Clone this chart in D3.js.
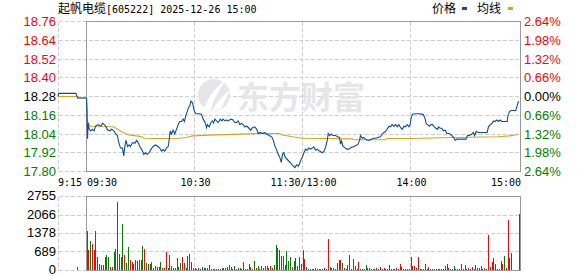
<!DOCTYPE html>
<html>
<head>
<meta charset="utf-8">
<script src="https://cdn.jsdelivr.net/npm/d3@7"></script>
<style>
body { margin: 0; background: #fff; }
svg { display: block; }
</style>
</head>
<body>
<svg id="chart"></svg>
<script>
const width = 578;
const height = 276;

const stockName = "起帆电缆";
const stockInfo = "[605222] 2025-12-26 15:00";
const legendNames = ["价格", "均线"];
const prevClose = 18.28;
const priceTicks = [18.76, 18.64, 18.52, 18.40, 18.28, 18.16, 18.04, 17.92, 17.80];
const pctTicks = ["2.64%", "1.98%", "1.32%", "0.66%", "0.00%", "0.66%", "1.32%", "1.98%", "2.64%"];
const volTicks = [0, 689, 1378, 2066, 2755];
const timeTicks = [["09:30", 0], ["10:30", 60], ["11:30/13:00", 120], ["14:00", 180], ["15:00", 240]];

// 9:15 - 9:30 auction, minutes after 9:15
const prePrice = [[0, 18.28], [0.3, 18.30], [9.6, 18.30], [10.5, 18.27], [15, 18.27]];
const preAvg = [[0, 18.28], [10.2, 18.28], [10.5, 18.27], [15, 18.27]];
const preVolume = [[10, 112]];

// trading minutes after 09:30 (0..240)
const priceSeries = [
    [0, 18.27], [0.6, 18.01], [0.9, 18.11], [1.5, 18.07], [2.4, 18.06], [3.3, 18.07], [4.3, 18.06], [5, 18.09],
    [6.5, 18.10], [8, 18.09], [8.9, 18.11], [9.8, 18.10], [10.7, 18.09], [11.7, 18.065], [13, 18.06], [13.9, 18.07],
    [15.2, 18.06], [16.3, 18.04], [17.2, 18.03], [17.8, 17.99], [18.9, 17.95], [20, 17.95], [20.7, 17.90], [21.3, 17.96],
    [21.9, 18.00], [22.8, 17.96], [23.7, 17.97], [24.4, 17.96], [25.6, 17.985], [26.9, 17.98], [27.8, 18.00], [28.7, 17.985],
    [29.6, 17.96], [30.7, 17.94], [31.8, 17.91], [32.8, 17.92], [33.7, 17.91], [34.8, 17.92], [35.7, 17.94], [37, 17.96],
    [38.3, 17.97], [39.8, 17.96], [40.7, 17.95], [41.7, 17.93], [42.6, 17.94], [43.5, 17.93], [44.4, 17.95], [45.4, 17.96],
    [45.9, 18.00], [46.5, 18.06], [47.2, 18.04], [48.1, 18.065], [49, 18.04], [50, 18.07], [50.9, 18.10], [51.8, 18.12],
    [52.8, 18.12], [53.7, 18.135], [54.4, 18.12], [55.2, 18.16], [55.9, 18.18], [56.7, 18.21], [57.4, 18.22], [58, 18.25],
    [58.9, 18.24], [59.8, 18.19], [60.8, 18.17], [62.6, 18.17], [63.9, 18.167], [64.8, 18.135], [65.9, 18.114], [66.7, 18.08],
    [67.2, 18.10], [68.2, 18.086], [69.1, 18.114], [70, 18.124], [70.6, 18.11], [71.3, 18.135], [72.2, 18.124], [73.2, 18.114],
    [74.3, 18.135], [75.2, 18.124], [75.9, 18.135], [76.9, 18.124], [77.8, 18.13], [78.7, 18.124], [80.2, 18.135], [81.5, 18.13],
    [82.4, 18.114], [83.3, 18.114], [84.3, 18.124], [85.2, 18.10], [86.1, 18.107], [87, 18.10], [88, 18.086], [89.1, 18.09],
    [90, 18.08], [91.3, 18.064], [92.2, 18.08], [93.5, 18.086], [94.6, 18.07], [95.4, 18.043], [96.5, 18.05], [97.8, 18.043],
    [98.9, 18.05], [100, 18.04], [101.5, 18.03], [103, 18.02], [103.9, 17.996], [104.6, 17.964], [105.6, 17.94], [106.5, 17.91],
    [107.4, 17.89], [108.2, 17.858], [108.9, 17.91], [109.6, 17.92], [110.4, 17.89], [111.3, 17.88], [112.6, 17.864], [113.7, 17.85],
    [114.8, 17.836], [115.8, 17.825], [116.7, 17.843], [117.8, 17.834], [118.9, 17.868], [119.8, 17.89], [120.8, 17.92], [121.7, 17.943],
    [122.6, 17.936], [123.5, 17.95], [124.5, 17.943], [125.4, 17.95], [126.3, 17.958], [127.2, 17.936], [128.2, 17.943], [129.1, 17.932],
    [130, 17.928], [130.9, 17.92], [131.9, 17.928], [132.8, 17.954], [133.7, 17.996], [134.3, 18.043], [135, 18.03], [135.9, 18.04],
    [136.9, 18.03], [138.3, 18.03], [139.6, 18.022], [140.6, 18.018], [141.1, 17.975], [141.7, 17.996], [142.4, 17.964], [143.3, 17.954],
    [144.5, 17.943], [145.8, 17.943], [147, 17.954], [148.2, 17.958], [149.5, 17.964], [150.8, 17.975], [151.7, 17.996], [152.2, 18.03],
    [153.2, 18.013], [154.1, 18.018], [155, 18.007], [155.9, 18.0], [157.2, 18.0], [158.2, 18.007], [159.3, 18.013], [160.6, 18.013],
    [161.9, 18.018], [163.3, 18.022], [164.3, 18.04], [165.2, 18.05], [166.1, 18.056], [167, 18.07], [168, 18.09], [168.9, 18.086],
    [169.8, 18.10], [170.8, 18.09], [171.7, 18.10], [172.6, 18.086], [173.5, 18.10], [174.5, 18.08], [175.4, 18.07], [176.3, 18.09],
    [177.2, 18.086], [178.2, 18.10], [179.1, 18.086], [179.8, 18.10], [180.4, 18.146], [181.1, 18.167], [182.6, 18.17], [184.5, 18.17],
    [186.3, 18.167], [187.2, 18.163], [188.2, 18.135], [188.7, 18.107], [189.5, 18.10], [190.4, 18.09], [191.3, 18.10], [192.2, 18.10],
    [193.2, 18.086], [194.1, 18.077], [195, 18.07], [195.6, 18.086], [196.5, 18.077], [197.4, 18.077], [198.3, 18.06], [199.3, 18.064],
    [200.2, 18.043], [201.1, 18.043], [202, 18.04], [203, 18.03], [203.9, 18.018], [204.8, 18.0], [205.8, 18.007], [207.6, 18.007],
    [209.5, 18.007], [210.8, 18.007], [211.7, 18.03], [212.8, 18.03], [214.1, 18.04], [215, 18.05], [215.6, 18.03], [216.5, 18.056],
    [217.8, 18.05], [219.6, 18.05], [221.5, 18.05], [222.6, 18.05], [223.3, 18.086], [224.3, 18.10], [225.2, 18.107], [226.1, 18.124],
    [227, 18.12], [228, 18.13], [228.9, 18.12], [229.8, 18.13], [230.8, 18.12], [231.7, 18.12], [233, 18.12], [233.7, 18.12],
    [234.1, 18.156], [234.5, 18.167], [235, 18.184], [235.9, 18.19], [237.2, 18.19], [238.5, 18.19], [239.2, 18.22], [240, 18.25]
];

const avgSeries = [
    [0, 18.271], [0.4, 18.199], [0.55, 18.124], [1.3, 18.103], [2.4, 18.088], [14.8, 18.086], [16.3, 18.077], [18.1, 18.064],
    [20.4, 18.05], [22.2, 18.04], [24.1, 18.033], [27.8, 18.028], [30.6, 18.022], [32.4, 18.013], [37, 18.011], [44.4, 18.011],
    [51.8, 18.013], [55.6, 18.018], [57.4, 18.024], [59.3, 18.028], [68.2, 18.033], [95, 18.043], [107, 18.043], [108.9, 18.033],
    [114.5, 18.022], [120, 18.013], [147.6, 18.009], [148.5, 18.003], [166.1, 18.003], [167, 18.011], [180.6, 18.011], [185, 18.013],
    [204.5, 18.018], [228.5, 18.022], [235, 18.028], [239.1, 18.035], [240, 18.037]
];

const volume = [
    1450, 744, 1079, 967, 744, 1450, 484, 223, 186, 186,
    484, 558, 484, 112, 112, 670, 781, 2530, 595, 484,
    1711, 558, 260, 856, 372, 298, 223, 372, 335, 372,
    372, 893, 781, 260, 223, 223, 298, 62, 149, 112,
    112, 298, 74, 74, 670, 74, 558, 149, 74, 74,
    446, 112, 260, 484, 260, 74, 520, 595, 298, 74,
    74, 37, 74, 37, 99, 62, 74, 62, 186, 37,
    37, 37, 37, 37, 50, 62, 74, 62, 112, 186,
    99, 37, 149, 50, 87, 74, 50, 285, 37, 50,
    223, 112, 37, 335, 62, 149, 50, 149, 62, 149,
    149, 74, 149, 62, 174, 930, 818, 744, 521, 521,
    186, 707, 335, 484, 99, 335, 446, 149, 484, 223,
    744, 409, 112, 37, 37, 37, 37, 62, 37, 37,
    37, 37, 62, 37, 1153, 112, 74, 74, 37, 260,
    372, 372, 260, 74, 37, 186, 558, 37, 409, 149,
    37, 298, 37, 37, 37, 186, 74, 74, 37, 37,
    37, 62, 37, 112, 37, 74, 37, 37, 186, 37,
    37, 37, 74, 37, 223, 112, 37, 37, 37, 37,
    484, 149, 149, 74, 484, 37, 37, 37, 223, 37,
    112, 37, 37, 37, 37, 37, 37, 37, 37, 149,
    223, 74, 37, 37, 149, 37, 37, 37, 223, 37,
    186, 37, 74, 37, 112, 37, 186, 74, 74, 149,
    37, 74, 37, 1302, 112, 298, 446, 223, 37, 37,
    335, 223, 521, 74, 1860, 446, 632, 0, 0, 0, 2083
];
// r = up, g = down
const volDir = ("grgrrrgrrg" + "gggrrgrgrr" + "grggrrgrgg" + "ggrgrgrgrg" + "rgrrrgrgrr" + "rggrrgrrgr" +
    "grrrgggrrg" + "grgrrgrrrr" + "rggrrgrrgr" + "grggrgrrgr" + "rgrrgggggr" + "rgggrgrrrr" +
    "rrgrrrgggr" + "ggrrrgrgrr" + "grgrgrrgrr" + "rrggrgrrrg" + "rrgrrrgrrr" + "grrrrgrrgr" +
    "rrrrrrgrgr" + "rgrggrrgrr" + "grgrgrgrrg" + "rrrgrrrgrr" + "rrgrrrrrgr" + "grgrrgrrrrr").split("");

const RED = "#ff0000", GREEN = "#008000", GRID = "#cfcfcf", BORDER = "#999999";
const BLUE = "#0a4ea0", GOLD = "#dca21e";
const NUM_FONT = "'Liberation Sans', Arial, sans-serif";
const MONO_FONT = "'DejaVu Sans Mono', monospace";
const CJK_FONT = "'Noto Sans CJK SC', sans-serif";

let svg = d3.select("#chart")
    .attr("width", width)
    .attr("height", height)
    .attr("viewBox", [0, 0, width, height]);

let x = d3.scaleLinear().domain([0, 240]).range([86.5, 518.5]);
let xPre = d3.scaleLinear().domain([0, 15]).range([58, 86]);
let y = d3.scaleLinear().domain([17.80, 18.76]).range([171.5, 21.5]);
let yVol = d3.scaleLinear().domain([0, 2755]).range([270.5, 196.5]);

const left = 58.5, boxLeft = 86.5, boxRight = 520.5;

// grid
let grid = svg.append("g")
    .attr("stroke", GRID)
    .attr("stroke-dasharray", "4,2")
    .attr("shape-rendering", "crispEdges");
grid.selectAll("line.h")
    .data(priceTicks)
    .join("line")
    .attr("x1", left)
    .attr("x2", boxRight)
    .attr("y1", d => y(d))
    .attr("y2", d => y(d));
grid.selectAll("line.hv")
    .data(volTicks)
    .join("line")
    .attr("class", "hv")
    .attr("x1", left)
    .attr("x2", boxRight)
    .attr("y1", d => yVol(d))
    .attr("y2", d => yVol(d));
grid.selectAll("line.v")
    .data(timeTicks.slice(1, 4))
    .join("line")
    .attr("class", "v")
    .attr("x1", d => Math.floor(x(d[1])) + 0.5)
    .attr("x2", d => Math.floor(x(d[1])) + 0.5)
    .attr("y1", y(18.76))
    .attr("y2", y(17.80));
grid.selectAll("line.vv")
    .data(timeTicks.slice(1, 4))
    .join("line")
    .attr("class", "vv")
    .attr("x1", d => Math.floor(x(d[1])) + 0.5)
    .attr("x2", d => Math.floor(x(d[1])) + 0.5)
    .attr("y1", yVol(2755))
    .attr("y2", yVol(0));
grid.append("line")
    .attr("x1", left).attr("x2", left)
    .attr("y1", y(18.76)).attr("y2", y(17.80));
grid.append("line")
    .attr("x1", left).attr("x2", left)
    .attr("y1", yVol(2755)).attr("y2", yVol(0));

// watermark
let mark = svg.append("g").attr("fill", "#e6e6e8");
mark.append("circle")
    .attr("cx", 214)
    .attr("cy", 95)
    .attr("r", 16);
mark.append("path")
    .attr("d", "M203,110 C208,98 214,88 226,80 C218,92 213,100 211,110 Z M212,111 C217,102 222,96 230,90 C226,98 223,104 221,109 Z")
    .attr("fill", "#fff");
mark.append("text")
    .attr("x", 237)
    .attr("y", 109)
    .attr("font-family", CJK_FONT)
    .attr("font-weight", "bold")
    .attr("font-size", 32)
    .attr("textLength", 128)
    .attr("lengthAdjust", "spacingAndGlyphs")
    .text("东方财富");

// borders
let border = svg.append("g")
    .attr("fill", "none")
    .attr("stroke", BORDER)
    .attr("shape-rendering", "crispEdges");
border.append("rect")
    .attr("x", boxLeft)
    .attr("y", y(18.76))
    .attr("width", boxRight - boxLeft)
    .attr("height", y(17.80) - y(18.76));
border.append("rect")
    .attr("x", boxLeft)
    .attr("y", yVol(2755))
    .attr("width", boxRight - boxLeft)
    .attr("height", yVol(0) - yVol(2755));

// volume bars
svg.append("g")
    .attr("shape-rendering", "crispEdges")
    .selectAll("rect")
    .data(volume)
    .join("rect")
    .attr("x", (d, i) => Math.round(x(i)))
    .attr("y", d => Math.round(yVol(d) - 0.5))
    .attr("width", 1)
    .attr("height", d => 270 - Math.round(yVol(d) - 0.5))
    .attr("fill", (d, i) => volDir[i] === "r" ? RED : GREEN);
svg.append("g")
    .selectAll("rect")
    .data(preVolume)
    .join("rect")
    .attr("x", d => Math.round(xPre(d[0])))
    .attr("y", d => Math.round(yVol(d[1]) - 0.5))
    .attr("width", 1)
    .attr("height", d => 270 - Math.round(yVol(d[1]) - 0.5))
    .attr("fill", GREEN);

// price & average lines
let lineMain = d3.line().x(d => x(d[0])).y(d => y(d[1]));
let linePre = d3.line().x(d => xPre(d[0])).y(d => y(d[1]));
let lines = svg.append("g").attr("fill", "none").attr("stroke-width", 1.1);
lines.append("path").attr("stroke", GOLD).attr("d", linePre(preAvg));
lines.append("path").attr("stroke", GOLD).attr("d", lineMain(avgSeries));
lines.append("path").attr("stroke", BLUE).attr("d", linePre(prePrice));
lines.append("path").attr("stroke", BLUE).attr("d", lineMain(priceSeries));

// left price labels
const tickColor = v => Math.abs(v - prevClose) < 1e-6 ? "#000" : (v > prevClose ? RED : GREEN);
svg.append("g")
    .attr("font-family", NUM_FONT)
    .attr("font-size", 13)
    .attr("text-anchor", "end")
    .selectAll("text")
    .data(priceTicks)
    .join("text")
    .attr("x", 56)
    .attr("y", d => y(d))
    .attr("dy", "0.36em")
    .attr("fill", tickColor)
    .text(d => d.toFixed(2));

// right percent labels
svg.append("g")
    .attr("font-family", NUM_FONT)
    .attr("font-size", 13)
    .selectAll("text")
    .data(pctTicks)
    .join("text")
    .attr("x", 524)
    .attr("y", (d, i) => y(priceTicks[i]))
    .attr("dy", "0.36em")
    .attr("fill", (d, i) => tickColor(priceTicks[i]))
    .text(d => d);

// volume labels
svg.append("g")
    .attr("font-family", NUM_FONT)
    .attr("font-size", 13)
    .attr("text-anchor", "end")
    .attr("fill", "#000")
    .selectAll("text")
    .data(volTicks)
    .join("text")
    .attr("x", 56)
    .attr("y", d => yVol(d) - 1)
    .attr("dy", "0.36em")
    .text(d => d);

// time labels
let timeG = svg.append("g")
    .attr("font-family", MONO_FONT)
    .attr("font-size", 10)
    .attr("fill", "#000");
timeG.append("text")
    .attr("x", 58)
    .attr("y", 186)
    .text("9:15");
timeG.selectAll("text.t")
    .data(timeTicks)
    .join("text")
    .attr("class", "t")
    .attr("x", (d, i) => i === 0 ? 87 : (i === timeTicks.length - 1 ? 521 : x(d[1]) + 1))
    .attr("y", 186)
    .attr("text-anchor", (d, i) => i === 0 ? "start" : (i === timeTicks.length - 1 ? "end" : "middle"))
    .text(d => d[0]);

// title
let titleText = svg.append("text")
    .attr("x", 58)
    .attr("y", 13)
    .attr("fill", "#000");
titleText.append("tspan")
    .attr("font-family", CJK_FONT)
    .attr("font-size", 12)
    .text(stockName);
titleText.append("tspan")
    .attr("font-family", MONO_FONT)
    .attr("font-size", 10)
    .text(stockInfo);

// legend
let legend = svg.append("g")
    .attr("font-family", CJK_FONT)
    .attr("font-size", 12)
    .attr("fill", "#000");
legend.append("text").attr("x", 432).attr("y", 13).text(legendNames[0]);
legend.append("rect").attr("x", 462).attr("y", 7).attr("width", 5).attr("height", 3).attr("fill", BLUE);
legend.append("text").attr("x", 477).attr("y", 13).text(legendNames[1]);
legend.append("rect").attr("x", 508).attr("y", 7).attr("width", 5).attr("height", 3).attr("fill", GOLD);
</script>
</body>
</html>
